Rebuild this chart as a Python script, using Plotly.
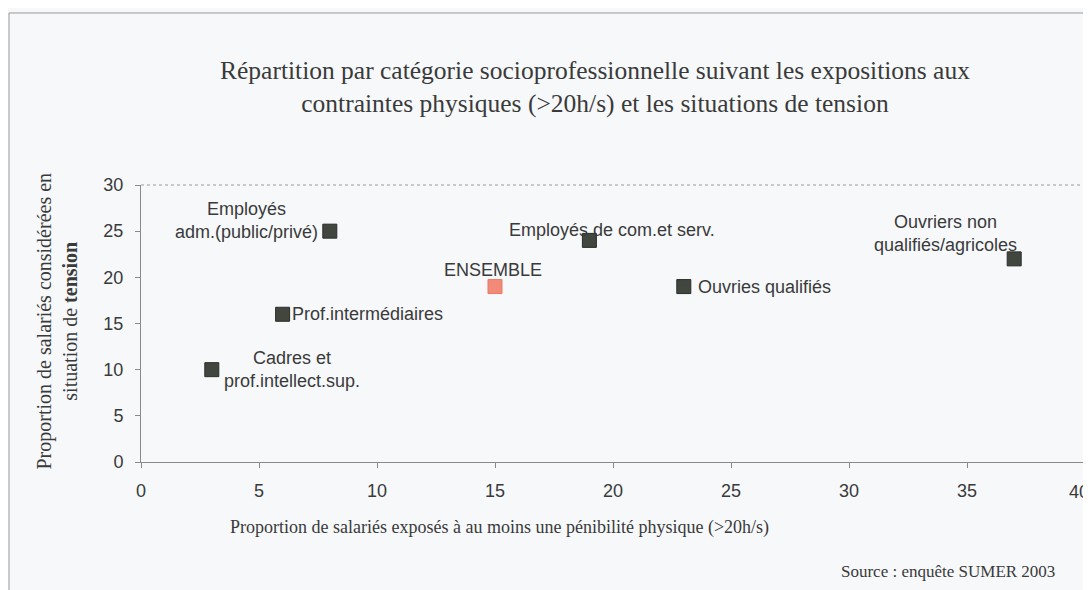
import plotly.graph_objects as go

# Data
categories = ["Cadres et<br>prof.intellect.sup.", "Prof.intermédiaires", "Employés<br>adm.(public/privé)",
              "Employés de com.et serv.", "Ouvries qualifiés", "Ouvriers non<br>qualifiés/agricoles"]
x_expo = [3, 6, 8, 19, 23, 37]
y_tension = [10, 16, 25, 24, 19, 22]
ensemble_label = "ENSEMBLE"
ensemble_x = [15]
ensemble_y = [19]
x_ticks = [0, 5, 10, 15, 20, 25, 30, 35, 40]
y_ticks = [0, 5, 10, 15, 20, 25, 30]

# label placement styles (per category)
label_styles = [
    dict(xanchor="left", xshift=10, yshift=0),
    dict(xanchor="left", xshift=7, yshift=0),
    dict(xanchor="right", xshift=-10, yshift=11),
    dict(xanchor="left", xshift=-82, yshift=10),
    dict(xanchor="left", xshift=12, yshift=0),
    dict(xanchor="right", xshift=5, yshift=25),
]

BG = "#f6f8fa"
TXT = "#3a3a3a"
serif = "Liberation Serif, Times New Roman, serif"
sans = "Liberation Sans, Arial, sans-serif"

fig = go.Figure()
fig.add_trace(go.Scatter(
    x=x_expo, y=y_tension, mode="markers",
    marker=dict(symbol="square", size=14, color="#41463f", line=dict(color="#2a2d2a", width=1)),
    hoverinfo="skip", showlegend=False))
fig.add_trace(go.Scatter(
    x=ensemble_x, y=ensemble_y, mode="markers",
    marker=dict(symbol="square", size=14, color="#f28a78", line=dict(color="#e97a68", width=1)),
    hoverinfo="skip", showlegend=False))

for name, xv, yv, st in zip(categories, x_expo, y_tension, label_styles):
    fig.add_annotation(x=xv, y=yv, text=name, showarrow=False, align="center",
                       yanchor="middle", font=dict(family=sans, size=18, color=TXT), **st)
fig.add_annotation(x=ensemble_x[0], y=ensemble_y[0], text=ensemble_label, showarrow=False,
                   xanchor="center", yanchor="middle", xshift=-2, yshift=17,
                   font=dict(family=sans, size=18, color=TXT))

# last x tick label (plotly drops it at the figure edge), kept inside the page
fig.add_annotation(x=x_ticks[-1], xref="x", yref="paper", y=0, yanchor="top", xanchor="right",
                   xshift=6, yshift=-18, text=str(x_ticks[-1]), showarrow=False,
                   font=dict(family=sans, size=18, color=TXT))

# Title
fig.add_annotation(xref="paper", yref="paper", x=0.481, y=1.354, xanchor="center", yanchor="middle",
                   text="Répartition par catégorie socioprofessionnelle suivant les expositions aux<br>contraintes physiques (>20h/s) et les situations de tension",
                   showarrow=False, align="center",
                   font=dict(family=serif, size=25.5, color=TXT))
# Y title
fig.add_annotation(xref="paper", yref="paper", x=-0.0895, y=0.509, xanchor="center", yanchor="middle",
                   text="Proportion de salariés considérées en<br>situation de <b>tension</b>",
                   textangle=-90, showarrow=False, align="center",
                   font=dict(family=serif, size=20, color=TXT))
# X title
fig.add_annotation(xref="paper", yref="paper", x=0.380, y=-0.235, xanchor="center", yanchor="middle",
                   text="Proportion de salariés exposés à au moins une pénibilité physique (>20h/s)",
                   showarrow=False, font=dict(family=serif, size=18, color=TXT))
# Source
fig.add_annotation(xref="paper", yref="paper", x=0.970, y=-0.397, xanchor="right", yanchor="middle",
                   text="Source : enquête SUMER 2003", showarrow=False,
                   font=dict(family=serif, size=17, color=TXT))

# outer frame
fig.add_shape(type="rect", xref="paper", yref="paper", x0=-0.1398, x1=1.2, y0=-0.6, y1=1.621,
              line=dict(color="#9a9a9a", width=1), layer="below")
# plot area dotted border (top & right)
fig.add_shape(type="line", xref="paper", yref="paper", x0=0, x1=1, y0=1, y1=1,
              line=dict(color="#9a9a9a", width=1, dash="dot"))
fig.add_shape(type="line", xref="paper", yref="paper", x0=1, x1=1, y0=0, y1=1,
              line=dict(color="#9a9a9a", width=1, dash="dot"))

axis_common = dict(showgrid=False, zeroline=False, showline=True, linecolor="#8a8a8a", linewidth=1,
                   ticks="outside", ticklen=5, tickcolor="#8a8a8a",
                   tickfont=dict(family=sans, size=18, color=TXT))
fig.update_xaxes(range=[0, 40], tickvals=x_ticks, ticktext=[str(v) for v in x_ticks],
                 ticklabelstandoff=7, **axis_common)
fig.update_yaxes(range=[0, 30], tickvals=y_ticks, ticktext=[str(v) for v in y_ticks],
                 ticklabelstandoff=8, **axis_common)

# page has an 8px body margin: figure starts at (8, 8)
fig.update_layout(width=1083, height=582, paper_bgcolor=BG, plot_bgcolor=BG,
                  margin=dict(l=133, r=6, t=177, b=128), showlegend=False)

fig.write_html("out.html")
